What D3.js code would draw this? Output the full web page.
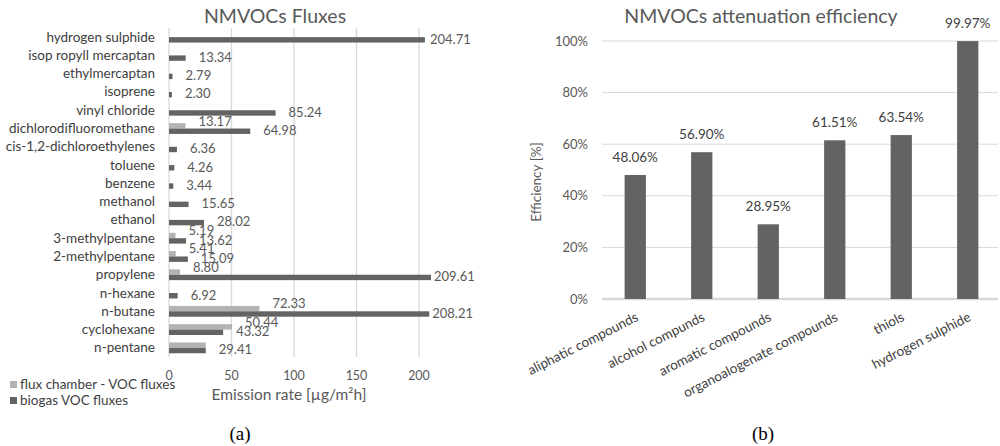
<!DOCTYPE html>
<html><head><meta charset="utf-8">
<script src="https://cdn.jsdelivr.net/npm/d3@7"></script>
<style>
body{margin:0;background:#fff;}
text{font-family:Lato,"Open Sans",sans-serif;}
text.serif{font-family:"Liberation Serif","DejaVu Serif",serif;}
</style></head>
<body><svg id="c" width="1000" height="446"></svg>
<script>
// ---- Data: chart (a) ----
const compounds = ["hydrogen sulphide","isop ropyll mercaptan","ethylmercaptan","isoprene","vinyl chloride","dichlorodifluoromethane","cis-1,2-dichloroethylenes","toluene","benzene","methanol","ethanol","3-methylpentane","2-methylpentane","propylene","n-hexane","n-butane","cyclohexane","n-pentane"];
const fluxChamber = [0,0,0,0,0,13.17,0,0,0,0,0,5.19,5.41,8.80,0,72.33,50.44,29.41];
const biogas = [204.71,13.34,2.79,2.30,85.24,64.98,6.36,4.26,3.44,15.65,28.02,13.62,15.09,209.61,6.92,208.21,43.32,29.41];
const xTicksA = [0,50,100,150,200];
const seriesNames = ["flux chamber - VOC fluxes","biogas VOC fluxes"];
// ---- Data: chart (b) ----
const groups = ["aliphatic compounds","alcohol compunds","aromatic compounds","organoalogenate compounds","thiols","hydrogen sulphide"];
const efficiency = [48.06,56.90,28.95,61.51,63.54,99.97];
const yTicksB = [0,20,40,60,80,100];

const svg = d3.select("#c");
const dark = "#636363", light = "#b3b3b3", grid = "#d9d9d9", txt = "#595959";

// ===== Chart (a) =====
const xA = d3.scaleLinear().domain([0,200]).range([169,419]);
const yA = d3.scaleBand().domain(compounds).range([28,357]).paddingInner(0).paddingOuter(0);
const gA = svg.append("g");
gA.append("text").attr("x",275).attr("y",23).attr("text-anchor","middle")
  .attr("font-size",19.5).attr("fill",txt).text("NMVOCs Fluxes");
gA.selectAll("line.grid").data(xTicksA).join("line")
  .attr("x1",d=>xA(d)).attr("x2",d=>xA(d)).attr("y1",28).attr("y2",357)
  .attr("stroke",grid).attr("stroke-width",1.3);
gA.selectAll("text.xt").data(xTicksA).join("text")
  .attr("x",d=>xA(d)).attr("y",380).attr("text-anchor","middle")
  .attr("font-size",12.5).attr("fill",txt).text(d=>d);
gA.append("text").attr("x",289).attr("y",400).attr("text-anchor","middle")
  .attr("font-size",15.5).attr("fill",txt).text("Emission rate [µg/m²h]");
gA.selectAll("text.cat").data(compounds).join("text")
  .attr("x",155).attr("y",d=>yA(d)+yA.bandwidth()/2+4.5).attr("text-anchor","end")
  .attr("font-size",13.5).attr("fill","#404040").text(d=>d);
const bh = 5.4;
const mid = d=>yA(d)+yA.bandwidth()/2;
gA.selectAll("rect.fc").data(compounds).join("rect")
  .attr("x",xA(0)).attr("y",d=>mid(d)-bh).attr("height",bh)
  .attr("width",(d,i)=>xA(fluxChamber[i])-xA(0)).attr("fill",light);
gA.selectAll("rect.bg").data(compounds).join("rect")
  .attr("x",xA(0)).attr("y",d=>mid(d)).attr("height",bh)
  .attr("width",(d,i)=>xA(biogas[i])-xA(0)).attr("fill",dark);
const lab = v=>Math.min(xA(v)+13, Math.max(xA(v)+3, 430));
gA.selectAll("text.bl").data(compounds).join("text")
  .attr("x",(d,i)=>lab(biogas[i])).attr("y",d=>mid(d)+6.5)
  .attr("font-size",13).attr("fill",txt).text((d,i)=>biogas[i].toFixed(2));
gA.selectAll("text.fl").data(compounds.filter((d,i)=>fluxChamber[i]>0 && fluxChamber[i]!==biogas[i])).join("text")
  .attr("x",d=>xA(fluxChamber[compounds.indexOf(d)])+13).attr("y",d=>mid(d)-3)
  .attr("font-size",13).attr("fill",txt).text(d=>fluxChamber[compounds.indexOf(d)].toFixed(2));
// legend
const leg = gA.selectAll("g.leg").data(seriesNames).join("g")
  .attr("transform",(d,i)=>`translate(10,${381+i*16})`);
leg.append("rect").attr("width",7).attr("height",7).attr("fill",(d,i)=>i===0?light:dark);
leg.append("text").attr("x",10).attr("y",8).attr("font-size",13.5).attr("fill","#404040").text(d=>d);
svg.append("text").attr("class","serif").attr("x",240).attr("y",440).attr("text-anchor","middle")
  .attr("font-size",19).attr("fill","#000").text("(a)");

// ===== Chart (b) =====
const xB = d3.scaleBand().domain(groups).range([602,1001]).paddingInner(0.68).paddingOuter(0.34);
const yB = d3.scaleLinear().domain([0,100]).range([299,41]);
const gB = svg.append("g");
gB.append("text").attr("x",761).attr("y",23).attr("text-anchor","middle")
  .attr("font-size",19.5).attr("fill",txt).text("NMVOCs attenuation efficiency");
gB.selectAll("line.grid").data(yTicksB.slice(1)).join("line")
  .attr("x1",602).attr("x2",998).attr("y1",d=>yB(d)).attr("y2",d=>yB(d))
  .attr("stroke",grid).attr("stroke-width",1);
gB.append("line").attr("x1",602).attr("x2",998).attr("y1",yB(0)).attr("y2",yB(0))
  .attr("stroke",grid).attr("stroke-width",2.5);
gB.selectAll("text.yt").data(yTicksB).join("text")
  .attr("x",588).attr("y",d=>yB(d)+4.5).attr("text-anchor","end")
  .attr("font-size",13).attr("fill",txt).text(d=>d+"%");
gB.append("text").attr("transform","translate(541,182) rotate(-90)").attr("text-anchor","middle")
  .attr("font-size",13.5).attr("fill",txt).text("Efficiency [%]");
gB.selectAll("rect.b").data(groups).join("rect")
  .attr("x",d=>xB(d)).attr("width",xB.bandwidth())
  .attr("y",(d,i)=>yB(efficiency[i])).attr("height",(d,i)=>yB(0)-yB(efficiency[i]))
  .attr("fill",dark);
gB.selectAll("text.vl").data(groups).join("text")
  .attr("x",d=>xB(d)+xB.bandwidth()/2).attr("y",(d,i)=>yB(efficiency[i])-13)
  .attr("text-anchor","middle").attr("font-size",13.5).attr("fill","#404040")
  .text((d,i)=>efficiency[i].toFixed(2)+"%");
gB.selectAll("text.xl").data(groups).join("text")
  .attr("transform",d=>`translate(${xB(d)+xB.bandwidth()/2+4},${320}) rotate(-27)`)
  .attr("text-anchor","end").attr("font-size",13.5).attr("fill","#404040").text(d=>d);
svg.append("text").attr("class","serif").attr("x",763).attr("y",440).attr("text-anchor","middle")
  .attr("font-size",19).attr("fill","#000").text("(b)");
</script></body></html>
